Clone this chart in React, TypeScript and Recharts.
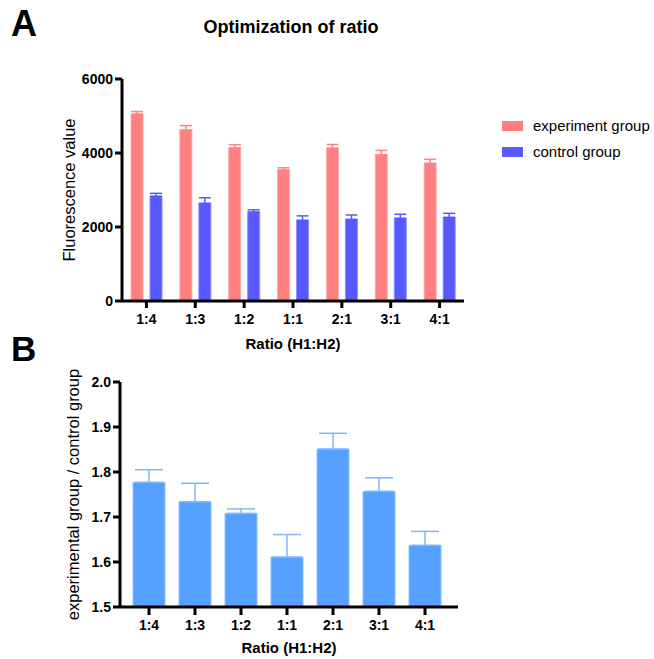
import React from 'react';
import { BarChart, Bar, XAxis, YAxis, ErrorBar } from 'recharts';

const ratios = ['1:4', '1:3', '1:2', '1:1', '2:1', '3:1', '4:1'];
const experimentValues = [5050, 4620, 4135, 3540, 4130, 3950, 3720];
const experimentErrors = [70, 120, 90, 60, 100, 120, 110];
const controlValues = [2830, 2640, 2405, 2180, 2205, 2235, 2260];
const controlErrors = [80, 150, 60, 120, 120, 110, 110];
const foldValues = [1.777, 1.734, 1.708, 1.611, 1.851, 1.757, 1.637];
const foldErrors = [0.028, 0.041, 0.010, 0.050, 0.035, 0.030, 0.031];
const fluorTicks = [0, 2000, 4000, 6000];
const foldTicks = [1.5, 1.6, 1.7, 1.8, 1.9, 2.0];

const FONT = '"Liberation Sans", Arial, sans-serif';
const RED = '#ff8080';
const BLUE = '#5858ff';
const SKY = '#56a0ff';

// only the upper whisker shows above the bars
const dataA = ratios.map((r, i) => ({
  ratio: r,
  experiment: experimentValues[i],
  experimentErr: [0, experimentErrors[i]],
  control: controlValues[i],
  controlErr: [0, controlErrors[i]],
}));

const dataB = ratios.map((r, i) => ({
  ratio: r,
  fold: foldValues[i],
  foldErr: [0, foldErrors[i]],
}));

const tickStyle = { fontSize: 14, fontWeight: 700, fill: '#000', fontFamily: FONT };
const axisLine = { stroke: '#000', strokeWidth: 3 };

export default function App() {
  return (
    <div style={{ position: 'absolute', left: 0, top: 0, width: 654, height: 659, background: '#fff', fontFamily: FONT }}>
      <div style={{ position: 'absolute', left: 11, top: 4, fontSize: 36, fontWeight: 700, lineHeight: '40px' }}>A</div>
      <div style={{ position: 'absolute', left: 11, top: 329, fontSize: 35, fontWeight: 700, lineHeight: '40px' }}>B</div>
      <div style={{ position: 'absolute', left: 191, width: 200, textAlign: 'center', top: 16, fontSize: 18, fontWeight: 700, lineHeight: '22px' }}>
        Optimization of ratio
      </div>

      <div style={{ position: 'absolute', left: 0, top: 0 }}>
        <BarChart width={654} height={360} data={dataA} margin={{ top: 79, right: 190, bottom: 9, left: 0 }} barSize={12} barGap={7}>
          <XAxis
            dataKey="ratio"
            height={50}
            axisLine={axisLine}
            tickLine={axisLine}
            tickSize={7}
            tickMargin={6}
            tick={tickStyle}
            label={{ value: 'Ratio (H1:H2)', position: 'insideBottom', offset: 2, style: { fontSize: 15, fontWeight: 700, fill: '#000', fontFamily: FONT } }}
          />
          <YAxis
            width={122}
            domain={[0, 6000]}
            ticks={fluorTicks}
            axisLine={axisLine}
            tickLine={axisLine}
            tickSize={7}
            tickMargin={2}
            tick={tickStyle}
            label={{ value: 'Fluorescence value', angle: -90, position: 'insideLeft', offset: 69, style: { textAnchor: 'middle', fontSize: 16.5, fill: '#000', fontFamily: FONT } }}
          />
          <Bar dataKey="experiment" fill={RED} stroke="#ffaaaa" strokeWidth={1} isAnimationActive={false}>
            <ErrorBar dataKey="experimentErr" width={6} stroke={RED} strokeWidth={1.5} />
          </Bar>
          <Bar dataKey="control" fill={BLUE} stroke="#8c8cff" strokeWidth={1} isAnimationActive={false}>
            <ErrorBar dataKey="controlErr" width={6} stroke={BLUE} strokeWidth={1.5} />
          </Bar>
        </BarChart>
      </div>

      <div style={{ position: 'absolute', left: 502, top: 118, fontSize: 15, lineHeight: '16px' }}>
        <div style={{ display: 'flex', alignItems: 'center', height: 16, marginBottom: 10 }}>
          <span style={{ display: 'inline-block', width: 21, height: 10, background: RED, marginRight: 10 }} />
          experiment group
        </div>
        <div style={{ display: 'flex', alignItems: 'center', height: 16 }}>
          <span style={{ display: 'inline-block', width: 21, height: 10, background: BLUE, marginRight: 10 }} />
          control group
        </div>
      </div>

      <div style={{ position: 'absolute', left: 0, top: 330 }}>
        <BarChart width={654} height={329} data={dataB} margin={{ top: 52, right: 196, bottom: 4, left: 0 }} barSize={32}>
          <XAxis
            dataKey="ratio"
            height={48}
            padding={{ left: 6, right: 10 }}
            axisLine={axisLine}
            tickLine={axisLine}
            tickSize={8}
            tickMargin={5}
            tick={tickStyle}
            label={{ value: 'Ratio (H1:H2)', position: 'insideBottom', offset: 2, style: { fontSize: 15, fontWeight: 700, fill: '#000', fontFamily: FONT } }}
          />
          <YAxis
            width={120}
            domain={[1.5, 2.0]}
            ticks={foldTicks}
            tickFormatter={(v: number) => v.toFixed(1)}
            axisLine={axisLine}
            tickLine={axisLine}
            tickSize={7}
            tickMargin={2}
            tick={tickStyle}
            label={{ value: 'experimental group / control group', angle: -90, position: 'insideLeft', offset: 73, style: { textAnchor: 'middle', fontSize: 16.5, fill: '#000', fontFamily: FONT } }}
          />
          <Bar dataKey="fold" fill={SKY} stroke="#8cc0ff" strokeWidth={1} isAnimationActive={false}>
            <ErrorBar dataKey="foldErr" width={14} stroke="#7fb6ff" strokeWidth={1.5} />
          </Bar>
        </BarChart>
      </div>
    </div>
  );
}
